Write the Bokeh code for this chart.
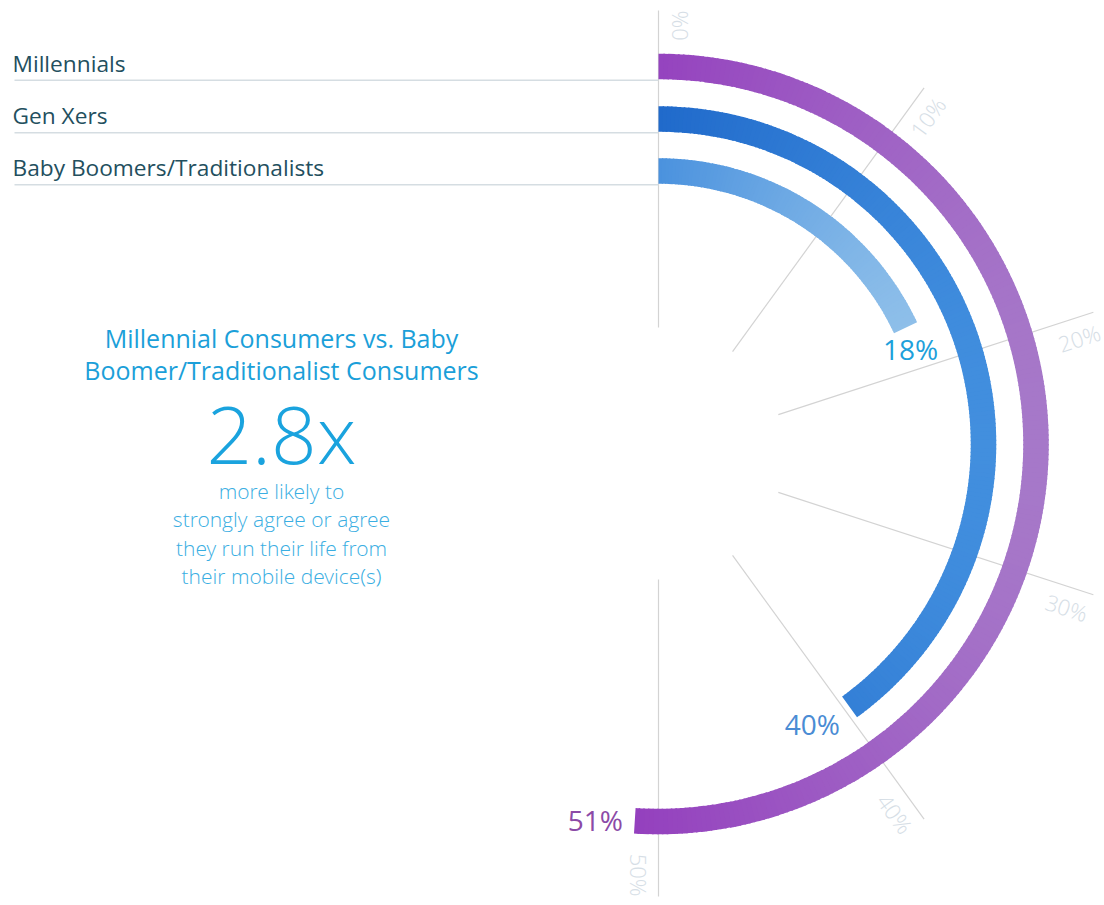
import numpy as np
from bokeh.plotting import figure
from bokeh.models import Range1d
from bokeh.embed import file_html
from bokeh.resources import INLINE
from bokeh.core.properties import value

# ---------------- data ----------------
groups = ["Millennials", "Gen Xers", "Baby Boomers/Traditionalists"]
values = [51, 40, 18]
value_labels = ["51%", "40%", "18%"]
tick_values = [0, 10, 20, 30, 40, 50]
tick_labels = ["0%", "10%", "20%", "30%", "40%", "50%"]
scale_max = 50
headline = ["Millennial Consumers vs. Baby", "Boomer/Traditionalist Consumers"]
ratio_label = "2.8x"
body_lines = ["more likely to", "strongly agree or agree",
              "they run their life from", "their mobile device(s)"]

# ---------------- style ----------------
W, H = 1104, 905
FONT = "Open Sans"
LIGHT = "Open Sans Light"
band_start = ["#9440BE", "#206ACB", "#4B92DE"]
band_end = ["#A77AC9", "#4390DF", "#91C1EA"]
label_colors = ["#8C4AA7", "#4A8CD4", "#1DA0DB"]
radii = [377.5, 325, 273]
band_w = 25.5


def Y(y):
    return H - y


cx, cy = 658, Y(443.5)     # arc centre
gx, gy = 658, Y(453)       # grid centre
r_in = 126


def r_out(t):
    return 443 + 15 * np.sin(t)


def theta(v):
    return v / scale_max * np.pi


def hex2rgb(h):
    h = h.lstrip("#")
    return np.array([int(h[i:i + 2], 16) for i in (0, 2, 4)], float)


def rgb2hex(c):
    return "#%02x%02x%02x" % tuple(int(round(v)) for v in c)


p = figure(width=W, height=H, x_range=Range1d(0, W), y_range=Range1d(0, H),
           output_backend="svg", toolbar_location=None, min_border=0)
p.axis.visible = False
p.grid.visible = False
p.outline_line_color = None
p.background_fill_color = "white"
p.border_fill_color = "white"

# ---------------- grid rays ----------------
th = np.array([theta(v) for v in tick_values])
ro = r_out(th)
p.segment(x0=gx + r_in * np.sin(th), y0=gy + r_in * np.cos(th),
          x1=gx + ro * np.sin(th), y1=gy + ro * np.cos(th),
          line_color="#D3D3D3", line_width=1.2)
gap = 5
p.text(x=gx + ro * np.sin(th) + gap * np.cos(th),
       y=gy + ro * np.cos(th) - gap * np.sin(th),
       text=tick_labels, angle=np.pi / 2 - th,
       text_align="right", text_baseline="top",
       text_font=value(LIGHT), text_font_size="22px", text_color="#D6DEE6")

# ---------------- legend rows ----------------
for i, g in enumerate(groups):
    ly = cy + radii[i] - band_w / 2 - 1
    p.segment(x0=[14], y0=[ly], x1=[cx], y1=[ly], line_color="#D5DDE2", line_width=1.6)
    p.text(x=[12], y=[ly + 17], text=[g], text_align="left", text_baseline="middle",
           text_font=value(FONT), text_font_size="22.7px", text_color="#234F5E")

# ---------------- gradient arcs ----------------
for i, v in enumerate(values):
    r = radii[i]
    te = theta(v)
    n = max(12, int(v * 5))
    edges = np.linspace(0, te, n + 1)
    dense = np.linspace(0, te, 400)
    xs = np.concatenate([cx + (r + band_w / 2) * np.sin(dense), cx + (r - band_w / 2) * np.sin(dense)])
    xmin, xmax = xs.min(), xs.max()
    mids = (edges[:-1] + edges[1:]) / 2
    xm = cx + r * np.sin(mids)
    t = np.clip((xm - xmin) / (xmax - xmin), 0, 1)
    c0, c1 = hex2rgb(band_start[i]), hex2rgb(band_end[i])
    cols = [rgb2hex(c0 + (c1 - c0) * tt) for tt in t]
    ov = np.full(n, 0.004)
    ov[-1] = 0
    p.annular_wedge(x=cx, y=cy, inner_radius=r - band_w / 2, outer_radius=r + band_w / 2,
                    start_angle=np.pi / 2 - edges[:-1], end_angle=np.pi / 2 - edges[1:] - ov,
                    direction="clock", fill_color=cols, line_color=None)

    # value label at the arc end
    ex, ey = cx + r * np.sin(te), cy + r * np.cos(te)
    tx, ty = np.cos(te), -np.sin(te)
    align = "right" if tx < -0.5 else ("left" if tx > 0.5 else "center")
    base = "top" if ty < -0.5 else ("bottom" if ty > 0.5 else "middle")
    yoff = -9 if base == "top" else 0
    p.text(x=[ex + 12 * tx], y=[ey + 12 * ty], text=[value_labels[i]],
           text_align=align, text_baseline=base, y_offset=yoff,
           text_font=value(FONT), text_font_size="28px", text_color=label_colors[i])

# ---------------- central annotation ----------------
tx0 = 281
p.text(x=[tx0, tx0], y=[Y(337), Y(369)], text=headline, text_align="center",
       text_baseline="middle", text_font=value(FONT), text_font_size="25px",
       text_color="#1B9FD9")
p.text(x=[tx0], y=[Y(432)], text=[ratio_label], text_align="center",
       text_baseline="middle", text_font=value(LIGHT), text_font_size="80px",
       text_color="#1AA3DE")
p.text(x=[tx0] * len(body_lines), y=[Y(490.5 + 28.4 * k) for k in range(len(body_lines))],
       text=body_lines, text_align="center", text_baseline="middle",
       text_font=value(LIGHT), text_font_size="21px", text_color="#3AAEE2")

open("out.html", "w").write(file_html(p, INLINE))
